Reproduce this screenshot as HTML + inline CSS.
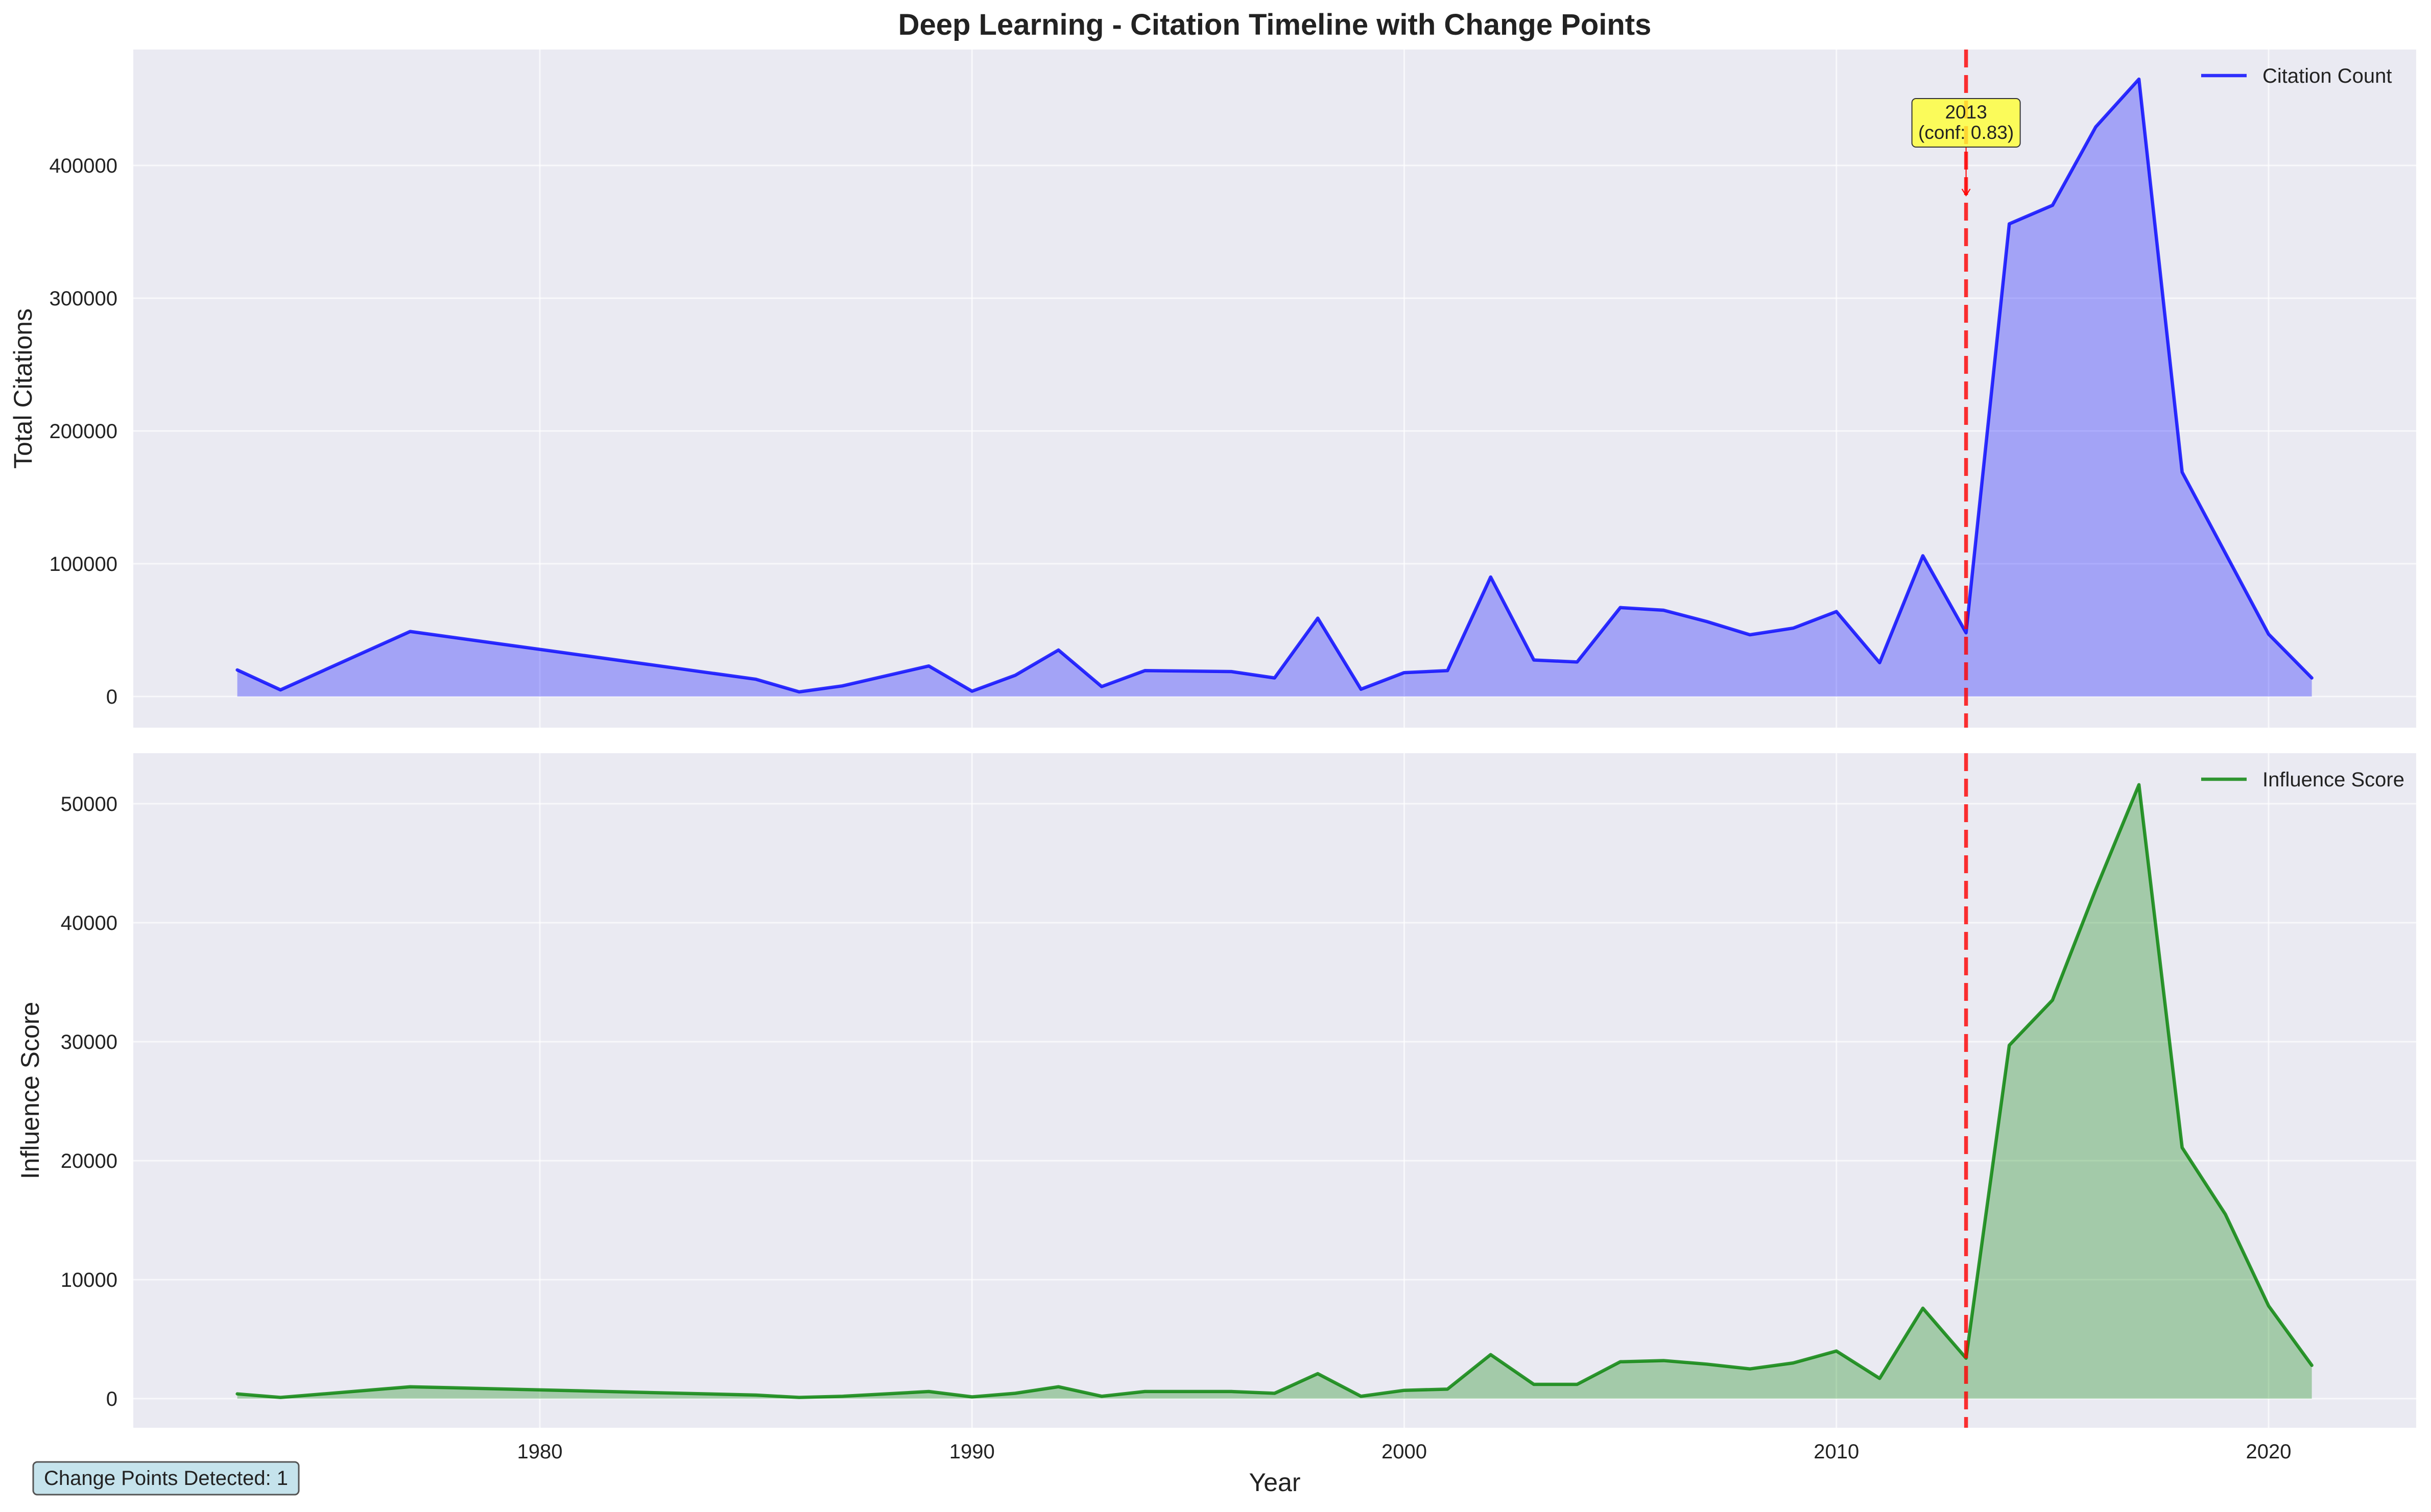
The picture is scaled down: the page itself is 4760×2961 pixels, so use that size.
<!DOCTYPE html>
<html><head><meta charset="utf-8"><style>
html,body{margin:0;padding:0;background:#fff}
svg{display:block;font-family:"Liberation Sans",sans-serif}
</style></head><body>
<svg id="chart" width="4760" height="2961" viewBox="0 0 4760 2961" xmlns="http://www.w3.org/2000/svg">
<rect width="4760" height="2961" fill="#ffffff"/>
<text x="2496" y="68" text-anchor="middle" font-size="58" font-weight="bold" fill="#222">Deep Learning - Citation Timeline with Change Points</text>
<g id="top"></g>
<g id="bottom"></g>
<text x="2496" y="2920" text-anchor="middle" font-size="50" fill="#222">Year</text>
<g>
<rect x="65" y="2863" width="520" height="64" rx="8" fill="#c5e3ec" stroke="#555" stroke-width="3"/>
<text x="325" y="2908" text-anchor="middle" font-size="40" fill="#222">Change Points Detected: 1</text>
</g>
</svg>
<script>
const years = [1973,1974,1977,1985,1986,1987,1989,1990,1991,1992,1993,1994,1995,1996,1997,1998,1999,2000,2001,2002,2003,2004,2005,2006,2007,2008,2009,2010,2011,2012,2013,2014,2015,2016,2017,2018,2019,2020,2021];
const citations = [20000,5000,49000,13000,3500,8000,23000,4000,16000,35000,7500,19500,19200,18800,14000,59000,5500,18000,19500,90000,27500,26000,67000,65000,56500,46500,51500,64000,25500,106000,48000,356000,370000,429000,465000,169000,108000,47000,14000];
const influence = [400,100,1000,300,100,200,600,150,450,1000,200,600,600,600,450,2100,200,700,800,3700,1200,1200,3100,3200,2900,2500,3000,4000,1700,7600,3400,29700,33500,42800,51600,21100,15500,7800,2800];
const xTicks = [1980,1990,2000,2010,2020];
const citTicks = [0,100000,200000,300000,400000];
const infTicks = [0,10000,20000,30000,40000,50000];
const changeYears = [2013];
const changeConf = [0.83];

const NS="http://www.w3.org/2000/svg";
const L=261,R=4731;
function xs(y){return 1057+(y-1980)*(3385/40);}
function mk(tag,attrs,parent){const e=document.createElementNS(NS,tag);for(const k in attrs)e.setAttribute(k,attrs[k]);parent.appendChild(e);return e;}

function panel(g,top,bot,yZero,pxPer,vals,ticks,color,fill,label,legend,nm){
  const ys=v=>yZero-v*pxPer;
  const bg=mk('rect',{x:L,y:top,width:R-L,height:bot-top,fill:'#eaeaf2'},g);
  
  
  xTicks.forEach(t=>{
    const l=mk('line',{x1:xs(t),x2:xs(t),y1:top,y2:bot,stroke:'#fff','stroke-width':3,opacity:0.7},g);
    
    
  });
  ticks.forEach(t=>{
    const l=mk('line',{x1:L,x2:R,y1:ys(t),y2:ys(t),stroke:'#fff','stroke-width':3,opacity:0.7},g);
    
    
    const tx=mk('text',{x:230,y:ys(t)+14,'text-anchor':'end','font-size':40,fill:'#222'},g);
    tx.textContent=t;
    
    
  });
  let d='M'+xs(years[0])+','+ys(0);
  years.forEach((y,i)=>{d+=' L'+xs(y)+','+ys(vals[i]);});
  d+=' L'+xs(years[years.length-1])+','+ys(0)+' Z';
  const a=mk('path',{d:d,fill:fill,'fill-opacity':0.3},g);
  
  
  const pts=years.map((y,i)=>xs(y)+','+ys(vals[i])).join(' ');
  const pl=mk('polyline',{points:pts,fill:'none',stroke:color,'stroke-width':6.5,'stroke-opacity':0.8,'stroke-linejoin':'round','stroke-linecap':'round'},g);
  
  
  changeYears.forEach(cy=>{
    const v=mk('line',{x1:xs(cy),x2:xs(cy),y1:top,y2:bot,stroke:'red','stroke-width':7.5,'stroke-dasharray':'35 15',opacity:0.8},g);
    
    
  });
  const yl=mk('text',{x:0,y:0,'text-anchor':'middle','font-size':50,fill:'#222',transform:'translate('+(nm==='citation'?62:76)+','+((top+bot)/2)+') rotate(-90)'},g);
  yl.textContent=label;
  
  
  const lg=mk('g',{},g);
  
  
  mk('line',{x1:4310,x2:4399,y1:top+51,y2:top+51,stroke:color,'stroke-width':6.5,'stroke-opacity':0.8},lg);
  const lt=mk('text',{x:4430,y:top+65,'font-size':40,fill:'#222'},lg);
  lt.textContent=legend;
}
const gt=document.getElementById('top'), gb=document.getElementById('bottom');
panel(gt,97,1425,1364,260/100000,citations,citTicks,'#0000ff','#0000ff','Total Citations','Citation Count','citation');
panel(gb,1475,2796,2739,233/10000,influence,infTicks,'green','green','Influence Score','Influence Score','influence');
xTicks.forEach(t=>{
  const tx=mk('text',{x:xs(t),y:2856,'text-anchor':'middle','font-size':40,fill:'#222'},gb);
  tx.textContent=t;
  
  
});
changeYears.forEach((cy,i)=>{
  const cx=xs(cy);
  const ag=mk('g',{},gt);
  
  
  mk('line',{x1:cx,x2:cx,y1:288,y2:383,stroke:'red','stroke-width':2},ag);
  mk('path',{d:'M'+(cx-8)+',370 L'+cx+',383 L'+(cx+8)+',370',fill:'none',stroke:'red','stroke-width':2},ag);
  mk('rect',{x:cx-106,y:193,width:212,height:95,rx:8,fill:'#ffff33','fill-opacity':0.8,stroke:'#333','stroke-width':2},ag);
  const t1=mk('text',{x:cx,y:232,'text-anchor':'middle','font-size':37,fill:'#222'},ag);
  t1.textContent=cy;
  const t2=mk('text',{x:cx,y:272,'text-anchor':'middle','font-size':37,fill:'#222'},ag);
  t2.textContent='(conf: '+changeConf[i].toFixed(2)+')';
});
</script>
</body></html>
